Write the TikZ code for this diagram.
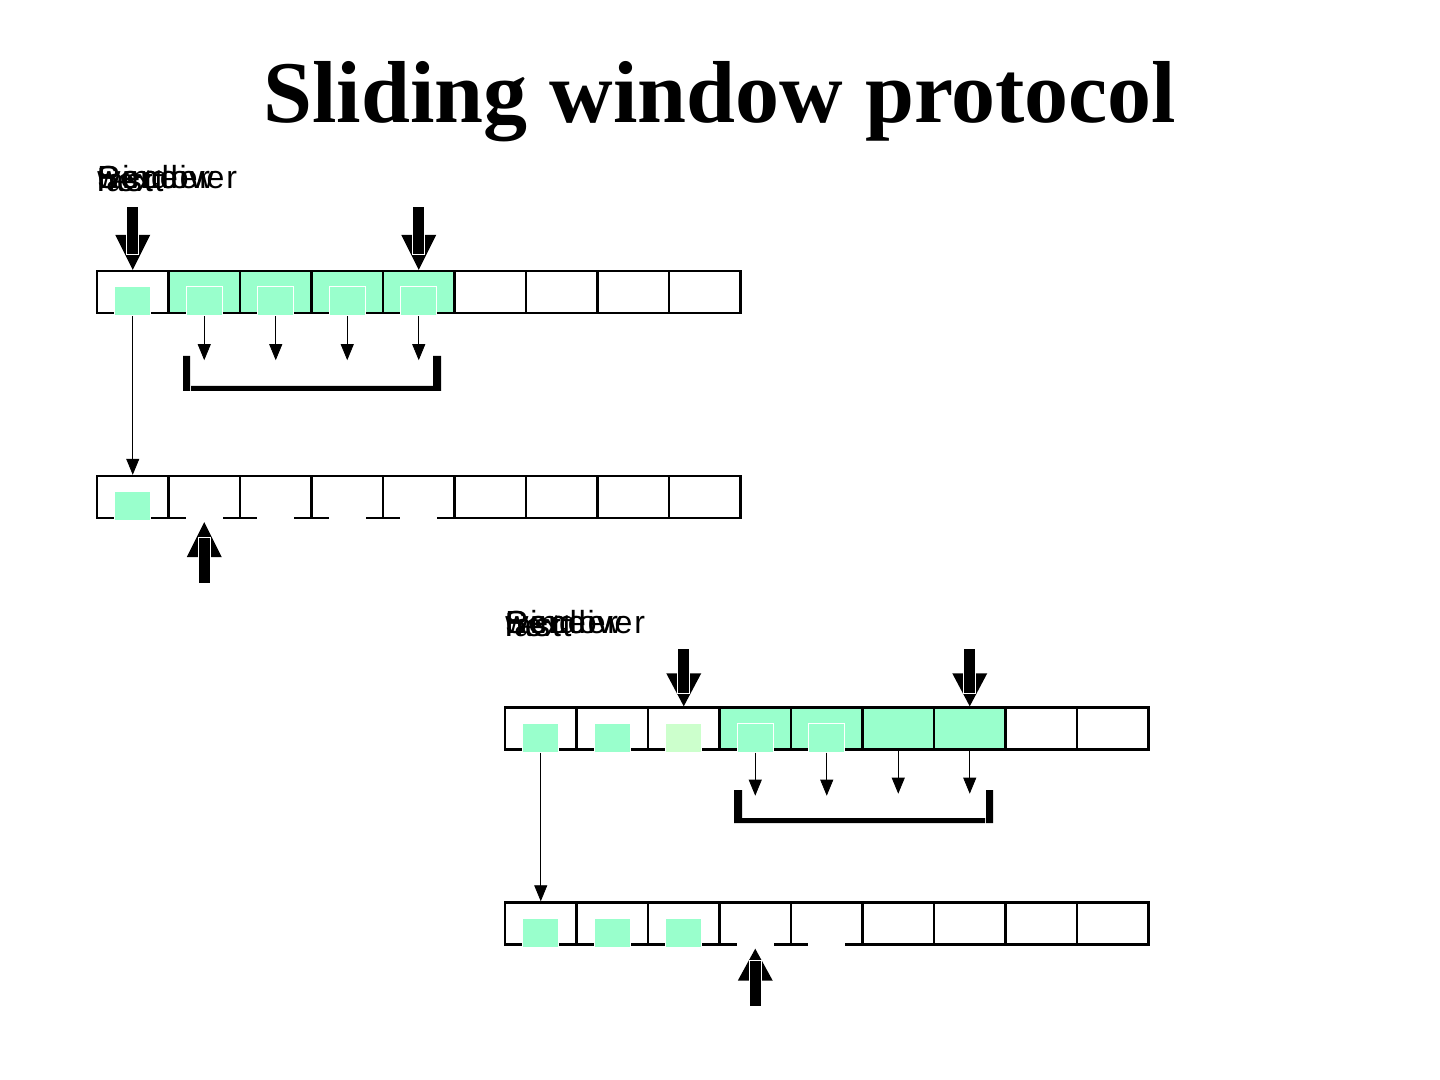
\documentclass[tikz,border=0pt]{standalone}
\usepackage{fontspec}
\setmainfont{Liberation Serif}
\newfontfamily\labelfont[LetterSpace=6]{Liberation Sans}
\usetikzlibrary{arrows.meta,calc,positioning}
\definecolor{winGreen}{RGB}{153,255,204}
\definecolor{ackGreen}{RGB}{204,255,204}

\tikzset{
  cell/.style={draw,line width=1.2pt,minimum width=35.75pt,minimum height=21pt,inner sep=0pt},
  pkt/.style={fill=winGreen,draw=white,line width=0.4pt,minimum width=18pt,minimum height=14.5pt,inner sep=0pt},
  gap/.style={pkt,fill=white},
  frame/.style={-{Triangle[width=6.5pt,length=8pt]},line width=0.4pt},
  lbl/.style={font=\labelfont\fontsize{16}{18}\selectfont,anchor=base west,inner sep=0pt},
}

\begin{document}
\begin{tikzpicture}[x=0.5pt,y=-0.5pt,>=Stealth]
  \useasboundingbox (0,0) rectangle (1440,1080);
  \node[anchor=base,font=\fontsize{44}{50}\selectfont\bfseries] (title) at (720,123) {Sliding window protocol};

  % first snapshot
  \foreach \w in {Receiver,window,Sender}
    \node[lbl] (la\w) at (97,189) {\w};
  \foreach \w in {next,last}
    \node[lbl] (la\w) at (97,192) {\w};
  \foreach \i/\c in {1/white,2/winGreen,3/winGreen,4/winGreen,5/winGreen,6/white,7/white,8/white,9/white}
    \node[cell,fill=\c] (pa\i) at ({97+71.5*(\i-0.5)},292) {};
  \foreach \i in {1,...,9}
    \node[cell] (pb\i) at ({97+71.5*(\i-0.5)},497) {};
  \foreach \i in {1,...,5}
    \node[pkt,above=-1pt of pa\i.south] (qa\i) {};
  \node[pkt,above=-1pt of pb1.south] (qb1) {};
  \foreach \i in {2,...,5}
    \node[gap,above=-1pt of pb\i.south] (qb\i) {};
  \foreach \c in {pa1,pa5} {
    \fill ($(\c.north)+(-17.5,-35)$) -- ++(35,0) -- (\c.north) -- cycle;
    \filldraw[draw=white,line width=0.5pt] ($(\c.north)+(-6,-63)$) rectangle ++(12,48);
  }
  \foreach \i in {2,...,5}
    \draw[frame] (qa\i.south) -- ++(0,44);
  \draw[frame] (qa1.south) -- (pb1.north);
  \fill (183,356) rectangle (190,391) (191,386) rectangle (433,391) (433,356) rectangle (441,391);
  \fill ($(pb2.south)+(0,3)$) -- ++(-17.5,35) -- ++(35,0) -- cycle;
  \filldraw[draw=white,line width=0.5pt] ($(pb2.south)+(-6,18)$) rectangle ++(12,46);

  % second snapshot
  \foreach \w in {Receiver,window,Sender}
    \node[lbl] (lc\w) at (505,633) {\w};
  \foreach \w in {next,last}
    \node[lbl] (lc\w) at (505,636) {\w};
  \foreach \i/\c in {1/white,2/white,3/white,4/winGreen,5/winGreen,6/winGreen,7/winGreen,8/white,9/white}
    \node[cell,fill=\c] (pc\i) at ({505+71.5*(\i-0.5)},728.5) {};
  \foreach \i in {1,...,9}
    \node[cell] (pd\i) at ({505+71.5*(\i-0.5)},923.5) {};
  \foreach \i/\c in {1/winGreen,2/winGreen,3/ackGreen,4/winGreen,5/winGreen}
    \node[pkt,fill=\c,above=-1pt of pc\i.south] (qc\i) {};
  \foreach \i in {1,2,3}
    \node[pkt,above=-1pt of pd\i.south] (qd\i) {};
  \foreach \i in {4,5}
    \node[gap,above=-1pt of pd\i.south] (qd\i) {};
  \foreach \c in {pc3,pc7} {
    \fill ($(\c.north)+(-17.5,-33)$) -- ++(35,0) -- (\c.north) -- cycle;
    \filldraw[draw=white,line width=0.5pt] ($(\c.north)+(-6,-58)$) rectangle ++(12,45);
  }
  \foreach \n in {qc4,qc5,pc6,pc7}
    \draw[frame] (\n.south) -- ++(0,43);
  \draw[frame] (qc1.south) -- (pd1.north);
  \fill (734,790) rectangle (742,823) (742,818) rectangle (985,823) (986,790) rectangle (993,823);
  \fill ($(pd4.south)+(0,3)$) -- ++(-17.5,32) -- ++(35,0) -- cycle;
  \filldraw[draw=white,line width=0.5pt] ($(pd4.south)+(-6,15)$) rectangle ++(12,46);
\end{tikzpicture}
\end{document}
